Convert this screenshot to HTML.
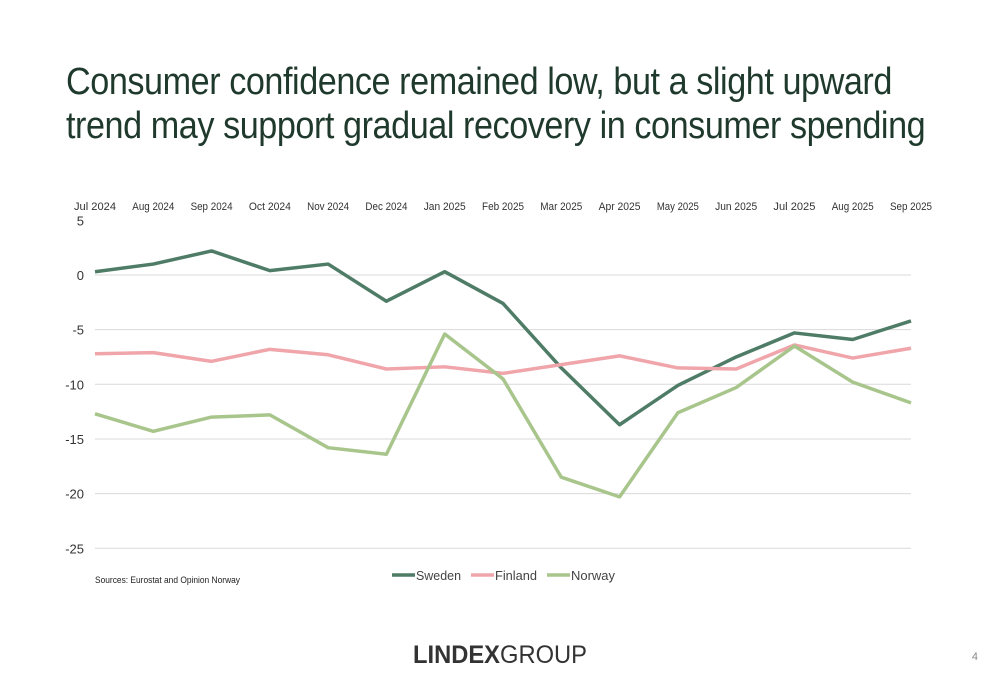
<!DOCTYPE html>
<html><head><meta charset="utf-8"><style>
body{margin:0;background:#fff;font-family:"Liberation Sans",sans-serif}
#wrap{position:relative;width:1000px;height:685px;overflow:hidden}
h1{position:absolute;left:66px;top:60px;margin:0;font-weight:normal;font-size:38px;line-height:44px;color:#1f3a2d;letter-spacing:-0.5px;transform:scaleX(0.9);transform-origin:left top;white-space:nowrap}
</style></head><body>
<div id="wrap">
<h1>Consumer confidence remained low, but a slight upward<br>trend may support gradual recovery in consumer spending</h1>
<svg id="chart" width="1000" height="685" style="position:absolute;left:0;top:0"></svg>
</div>
<script>
const categories=["Jul 2024","Aug 2024","Sep 2024","Oct 2024","Nov 2024","Dec 2024","Jan 2025","Feb 2025","Mar 2025","Apr 2025","May 2025","Jun 2025","Jul 2025","Aug 2025","Sep 2025"];
const sweden=[0.3,1.0,2.2,0.4,1.0,-2.4,0.3,-2.6,-8.5,-13.7,-10.1,-7.5,-5.3,-5.9,-4.2];
const finland=[-7.2,-7.1,-7.9,-6.8,-7.3,-8.6,-8.4,-9.0,-8.2,-7.4,-8.5,-8.6,-6.4,-7.6,-6.7];
const norway=[-12.7,-14.3,-13.0,-12.8,-15.8,-16.4,-5.4,-9.5,-18.5,-20.3,-12.6,-10.3,-6.5,-9.8,-11.7];
const yTicks=[5,0,-5,-10,-15,-20,-25];
const NS="http://www.w3.org/2000/svg";
const svg=document.getElementById('chart');
const x=i=>95+i*(911-95)/(categories.length-1);
const y=v=>275-v*10.93;
function mk(t,a,p){const e=document.createElementNS(NS,t);for(const k in a)e.setAttribute(k,a[k]);(p||svg).appendChild(e);return e;}
yTicks.forEach(v=>{
 if(v!==5){const l=mk('line',{x1:95,x2:911,y1:y(v),y2:y(v),stroke:'#d9d9d9','stroke-width':1});
 
 }
 const t=mk('text',{x:84,y:y(v)+5,'text-anchor':'end','font-size':13,fill:'#333'});t.textContent=v;
 
 
});
categories.forEach((c,i)=>{
 const t=mk('text',{x:x(i),y:210,'text-anchor':'middle','font-size':11,fill:'#333',textLength:42,lengthAdjust:'spacingAndGlyphs'});t.textContent=c;
 
 
});
[[sweden,'#4f7c67','sweden-line'],[finland,'#f0a5ab','finland-line'],[norway,'#a8c58c','norway-line']].forEach(([d,c,n])=>{
 const p=mk('polyline',{points:d.map((v,i)=>x(i)+','+y(v)).join(' '),fill:'none',stroke:c,'stroke-width':3.5,'stroke-linejoin':'round'});
 
 
});
[['Sweden','#4f7c67',392,45],['Finland','#f0a5ab',471,42],['Norway','#a8c58c',547,44]].forEach(([n,c,lx,w])=>{
 const g=mk('g',{});
 
 
 mk('line',{x1:lx,x2:lx+23,y1:575,y2:575,stroke:c,'stroke-width':3.5},g);
 const t=mk('text',{x:lx+24,y:580,'font-size':13,fill:'#444',textLength:w,lengthAdjust:'spacingAndGlyphs'},g);t.textContent=n;
});
const s=mk('text',{x:95,y:583,'font-size':9,fill:'#222',textLength:145,lengthAdjust:'spacingAndGlyphs'});s.textContent='Sources: Eurostat and Opinion Norway';


const lg=mk('text',{x:413,y:663,'font-size':25,fill:'#333',textLength:174,lengthAdjust:'spacingAndGlyphs'});
lg.innerHTML='<tspan font-weight="bold">LINDEX</tspan>GROUP';


const pn=mk('text',{x:978,y:660,'font-size':11,fill:'#888','text-anchor':'end'});pn.textContent='4';


</script>
</body></html>
